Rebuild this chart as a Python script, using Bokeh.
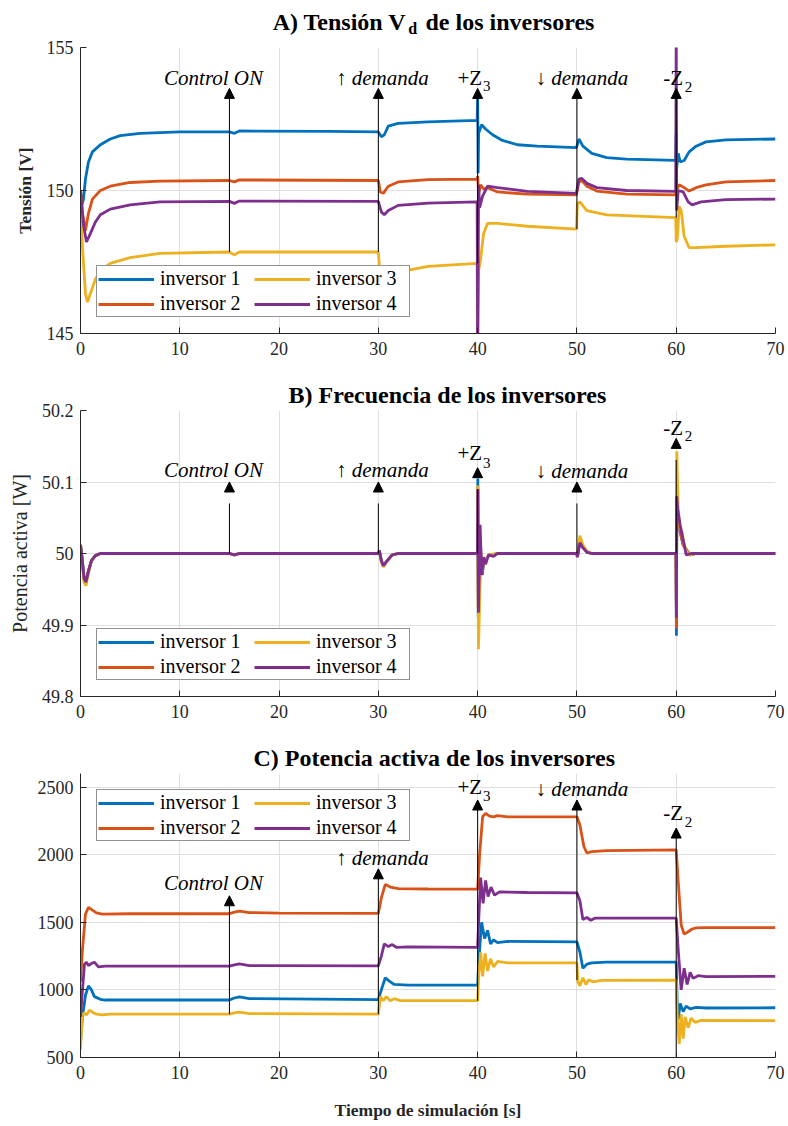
from bokeh.plotting import figure
from bokeh.layouts import column
from bokeh.models import (Legend, LegendItem, Label, Arrow, NormalHead, Title,
                          FixedTicker, CustomJSTickFormatter)
from bokeh.core.properties import value
from bokeh.embed import file_html
from bokeh.resources import INLINE

# ---------------- data ----------------
COLORS = ["#0072BD", "#D95319", "#EDB120", "#7E2F8E"]
NAMES = ["inversor 1", "inversor 2", "inversor 3", "inversor 4"]
X_TICKS = [0, 10, 20, 30, 40, 50, 60, 70]
EVENT_T = [15, 30, 40, 50, 60]

# A) Tension Vd [V]
vd_inv1 = [(0, 150.0), (0.15, 149.5), (0.3, 149.7), (0.5, 150.4), (0.8, 151.0), (1.2, 151.35), (2, 151.6),
           (3, 151.8), (4, 151.92), (6, 152.0), (10, 152.05), (15, 152.05), (15.5, 152.0), (16, 152.08),
           (25, 152.07), (30, 152.05), (30.3, 151.88), (30.6, 151.95), (31, 152.25), (32, 152.35),
           (35, 152.4), (39.95, 152.45), (40.0, 153.35), (40.05, 150.6), (40.1, 152.0), (40.4, 152.3),
           (40.8, 152.15), (41.5, 151.95), (42.5, 151.75), (44, 151.6), (46, 151.55), (49.95, 151.5),
           (50.2, 151.8), (50.6, 151.55), (51.5, 151.3), (53, 151.15), (55, 151.1), (59.95, 151.05),
           (60.0, 152.0), (60.05, 150.8), (60.2, 151.3), (60.4, 151.0), (60.8, 151.05), (61.3, 151.35),
           (62, 151.55), (63, 151.7), (65, 151.77), (70, 151.8)]
vd_inv2 = [(0, 150.0), (0.2, 149.2), (0.5, 148.6), (0.8, 149.2), (1.2, 149.7), (2, 150.0), (3, 150.15),
           (5, 150.28), (8, 150.33), (15, 150.35), (15.5, 150.3), (16, 150.37), (30, 150.35), (30.2, 149.95),
           (30.5, 149.9), (31, 150.15), (32, 150.3), (35, 150.38), (39.95, 150.4), (40.0, 150.5),
           (40.1, 149.9), (40.3, 150.2), (40.6, 150.05), (41, 150.1), (42, 149.95), (45, 149.87),
           (49.95, 149.85), (50.2, 150.3), (50.5, 150.35), (51, 150.15), (52, 149.98), (55, 149.87),
           (59.95, 149.85), (60.0, 150.0), (60.3, 150.2), (60.8, 150.1), (61.3, 149.98), (62, 150.1),
           (63, 150.2), (65, 150.3), (70, 150.35)]
vd_inv3 = [(0, 150.0), (0.2, 148.0), (0.5, 146.4), (0.7, 146.1), (1.0, 146.4), (1.5, 146.9), (2, 147.2),
           (3, 147.45), (5, 147.65), (8, 147.8), (15, 147.85), (15.5, 147.75), (16, 147.85), (30, 147.85),
           (30.2, 146.9), (30.5, 146.6), (31, 146.9), (32, 147.15), (35, 147.35), (39.95, 147.45),
           (40.0, 144.5), (40.1, 147.2), (40.3, 147.6), (40.6, 148.5), (41, 148.85), (42, 148.85),
           (45, 148.75), (49.95, 148.65), (50.05, 149.55), (50.3, 149.6), (51, 149.3), (53, 149.15),
           (59.95, 149.05), (60.0, 148.2), (60.1, 148.3), (60.3, 149.45), (60.5, 149.3), (60.8, 148.4),
           (61.3, 148.0), (62, 148.0), (65, 148.05), (70, 148.1)]
vd_inv4 = [(0, 150.0), (0.3, 148.8), (0.6, 148.2), (1.0, 148.5), (1.5, 148.9), (2, 149.15), (3, 149.35),
           (5, 149.5), (8, 149.6), (15, 149.62), (15.5, 149.55), (16, 149.63), (30, 149.62), (30.3, 149.25),
           (30.6, 149.15), (31, 149.3), (32, 149.48), (35, 149.56), (39.95, 149.6), (40.0, 144.0),
           (40.1, 150.2), (40.2, 149.4), (40.5, 149.8), (41, 150.15), (42, 150.1), (45, 149.97),
           (49.95, 149.9), (50.2, 150.4), (50.5, 150.42), (51, 150.25), (52, 150.1), (55, 150.0),
           (59.95, 149.97), (60.0, 156.0), (60.05, 149.3), (60.2, 150.0), (60.7, 149.95), (61.2, 149.6),
           (61.6, 149.5), (62.5, 149.6), (65, 149.68), (70, 149.7)]

# B) Frecuencia [Hz]
f_inv1 = [(0, 50.012), (0.15, 49.995), (0.35, 49.968), (0.55, 49.962), (0.8, 49.975), (1.1, 49.99),
          (1.5, 49.997), (2, 50.0), (15, 50.0), (15.5, 49.998), (16, 50.0), (30, 50.0), (30.1, 50.004),
          (30.3, 49.99), (30.5, 49.983), (30.9, 49.99), (31.4, 49.998), (32, 50.0), (39.98, 50.0),
          (40.02, 50.105), (40.06, 49.91), (40.15, 49.935), (40.3, 50.0), (40.45, 49.97), (40.6, 49.985),
          (40.8, 49.99), (41.1, 49.997), (42, 50.0), (49.98, 50.0), (50.05, 49.995), (50.3, 50.018),
          (50.6, 50.01), (51, 50.002), (51.5, 50.0), (59.98, 50.0), (60.02, 49.885), (60.06, 50.08),
          (60.2, 50.05), (60.4, 50.03), (60.7, 50.012), (61.0, 50.006), (61.4, 49.998), (62, 50.0), (70, 50.0)]
f_inv2 = [(0, 50.012), (0.15, 49.994), (0.35, 49.966), (0.55, 49.961), (0.8, 49.976), (1.1, 49.99),
          (1.5, 49.997), (2, 50.0), (15, 50.0), (15.5, 49.998), (16, 50.0), (30, 50.0), (30.1, 50.004),
          (30.3, 49.99), (30.5, 49.982), (30.9, 49.99), (31.4, 49.998), (32, 50.0), (39.98, 50.0),
          (40.02, 50.092), (40.06, 49.925), (40.15, 49.94), (40.3, 50.01), (40.45, 49.97), (40.6, 49.99),
          (40.8, 49.99), (41.1, 49.997), (42, 50.0), (49.98, 50.0), (50.05, 49.995), (50.3, 50.02),
          (50.6, 50.01), (51, 50.002), (51.5, 50.0), (59.98, 50.0), (60.02, 49.895), (60.06, 50.078),
          (60.2, 50.052), (60.4, 50.03), (60.7, 50.012), (61.0, 50.006), (61.4, 49.998), (62, 50.0), (70, 50.0)]
f_inv3 = [(0, 50.01), (0.15, 49.99), (0.35, 49.96), (0.55, 49.955), (0.8, 49.972), (1.1, 49.99),
          (1.5, 49.997), (2, 50.0), (15, 50.0), (15.5, 49.998), (16, 50.0), (30, 50.0), (30.1, 50.003),
          (30.3, 49.988), (30.5, 49.981), (30.9, 49.99), (31.4, 49.998), (32, 50.0), (39.98, 50.0),
          (40.02, 50.095), (40.08, 49.866), (40.2, 49.93), (40.3, 50.0), (40.45, 49.975), (40.6, 49.99),
          (40.8, 49.992), (41.1, 49.998), (42, 50.0), (49.98, 50.0), (50.05, 49.996), (50.3, 50.025),
          (50.6, 50.012), (51, 50.003), (51.5, 50.0), (59.98, 50.0), (60.02, 49.92), (60.06, 50.143),
          (60.2, 50.06), (60.4, 50.035), (60.6, 50.03), (60.8, 50.012), (61.0, 50.004), (61.4, 49.998),
          (62, 50.0), (70, 50.0)]
f_inv4 = [(0, 50.012), (0.15, 49.995), (0.35, 49.965), (0.55, 49.96), (0.8, 49.975), (1.1, 49.99),
          (1.5, 49.997), (2, 50.0), (15, 50.0), (15.5, 49.998), (16, 50.0), (30, 50.0), (30.1, 50.004),
          (30.3, 49.99), (30.5, 49.983), (30.9, 49.99), (31.4, 49.998), (32, 50.0), (39.98, 50.0),
          (40.02, 50.09), (40.08, 49.917), (40.25, 50.04), (40.4, 49.97), (40.6, 49.995), (40.8, 49.985),
          (41.1, 49.998), (41.6, 49.996), (42, 50.0), (49.98, 50.0), (50.05, 49.995), (50.3, 50.015),
          (50.6, 50.008), (51, 50.002), (51.5, 50.0), (59.98, 50.0), (60.02, 49.91), (60.06, 50.08),
          (60.15, 50.062), (60.4, 50.04), (60.6, 50.025), (60.8, 50.013), (61.0, 49.998), (61.5, 50.0),
          (70, 50.0)]

# C) Potencia activa [W]
p_inv1 = [(0, 620), (0.2, 800), (0.5, 960), (0.8, 1030), (1.1, 1000), (1.4, 950), (2, 930), (2.5, 925),
          (15, 925), (15.5, 940), (16, 948), (17, 935), (30, 928), (30.3, 1000), (30.7, 1090), (31.1, 1065),
          (31.6, 1040), (33, 1035), (40, 1035), (40.1, 1200), (40.4, 1500), (40.7, 1380), (41, 1440),
          (41.3, 1340), (41.6, 1370), (42, 1350), (43, 1358), (50, 1355), (50.3, 1280), (50.6, 1160),
          (51, 1190), (51.5, 1200), (53, 1205), (60, 1205), (60.1, 900), (60.2, 780), (60.4, 900),
          (60.7, 840), (61.0, 880), (61.4, 860), (62, 870), (63, 866), (70, 868)]
p_inv2 = [(0, 1060), (0.2, 1300), (0.5, 1560), (0.8, 1610), (1.2, 1590), (1.6, 1570), (2.2, 1560), (5, 1563),
          (15, 1563), (15.5, 1575), (16, 1583), (17, 1572), (20, 1568), (30, 1565), (30.3, 1680), (30.7, 1780),
          (31.2, 1760), (32, 1748), (35, 1746), (40, 1745), (40.2, 2000), (40.5, 2280), (40.8, 2305),
          (41.2, 2285), (41.6, 2280), (42, 2288), (43, 2280), (50, 2280), (50.3, 2220), (50.7, 2060),
          (51, 2012), (51.5, 2022), (53, 2030), (60, 2035), (60.2, 1800), (60.5, 1480), (60.8, 1412),
          (61.2, 1430), (61.6, 1450), (62, 1458), (63, 1460), (70, 1460)]
p_inv3 = [(0, 560), (0.2, 820), (0.4, 830), (0.6, 815), (0.9, 850), (1.2, 835), (1.6, 820), (2.2, 815),
          (3, 820), (15, 820), (15.5, 830), (16, 835), (17, 825), (30, 820), (30.2, 950), (30.5, 920),
          (30.8, 950), (31.2, 920), (31.6, 935), (32.2, 920), (35, 920), (40, 920), (40.1, 1100),
          (40.3, 1280), (40.5, 1100), (40.75, 1270), (41, 1140), (41.3, 1230), (41.6, 1170), (42, 1210),
          (43, 1200), (50, 1200), (50.1, 1060), (50.3, 1030), (50.6, 1090), (50.9, 1040), (51.2, 1075),
          (51.6, 1060), (52.5, 1070), (60, 1072), (60.1, 800), (60.3, 600), (60.5, 820), (60.7, 640),
          (60.9, 800), (61.2, 720), (61.5, 790), (61.9, 760), (62.5, 775), (70, 772)]
p_inv4 = [(0, 800), (0.2, 1000), (0.4, 1190), (0.6, 1205), (0.8, 1180), (1.1, 1195), (1.4, 1205),
          (1.8, 1170), (2.5, 1175), (15, 1175), (15.5, 1185), (16, 1192), (17, 1180), (30, 1177),
          (30.3, 1250), (30.6, 1340), (31, 1320), (31.4, 1335), (31.8, 1315), (33, 1318), (40, 1315),
          (40.1, 1500), (40.3, 1830), (40.55, 1640), (40.8, 1810), (41.05, 1690), (41.35, 1760),
          (41.7, 1700), (42.2, 1725), (45, 1720), (50, 1718), (50.3, 1660), (50.6, 1520), (51, 1535),
          (51.4, 1515), (51.8, 1530), (53, 1530), (60, 1530), (60.2, 1300), (60.5, 1000), (60.8, 1160),
          (61.1, 1040), (61.4, 1130), (61.7, 1085), (62.2, 1105), (63, 1098), (70, 1100)]

FONT = "Liberation Serif"
AX_COLOR = "#262626"


def title_fig(height, pieces):
    """Title strip; its frame is aligned with the plots' frames (x in seconds, y in px)."""
    t = figure(width=788, height=height, x_range=(0, 70), y_range=(height, 0),
               x_axis_type=None, y_axis_type=None,
               output_backend="svg", toolbar_location=None,
               min_border_left=80, min_border_right=13, min_border_top=0, min_border_bottom=0)
    t.xgrid.visible = False
    t.ygrid.visible = False
    t.outline_line_color = None
    t.border_fill_color = "white"
    for x, y, txt, size, align in pieces:
        t.text(x=[x], y=[y], text=[txt], text_font=value(FONT), text_font_style="bold",
               text_font_size=value(size), text_align=align, text_baseline="middle",
               text_color="black")
    return t


def make_fig(height, y_range, y_ticks, border_top, border_bottom):
    p = figure(width=788, height=height, x_range=(0, 70), y_range=y_range,
               output_backend="svg", toolbar_location=None,
               min_border_left=80, min_border_right=13,
               min_border_top=border_top, min_border_bottom=border_bottom)
    p.outline_line_color = None
    p.background_fill_color = "white"
    p.border_fill_color = "white"
    p.xaxis.ticker = FixedTicker(ticks=X_TICKS)
    p.yaxis.ticker = FixedTicker(ticks=y_ticks)
    for ax in (p.xaxis[0], p.yaxis[0]):
        ax.axis_line_color = AX_COLOR
        ax.major_tick_line_color = AX_COLOR
        ax.major_tick_in = 6
        ax.major_tick_out = 0
        ax.minor_tick_line_color = None
        ax.major_label_text_font = FONT
        ax.major_label_text_font_size = "18px"
        ax.major_label_text_color = AX_COLOR
        ax.axis_label_text_font = FONT
        ax.axis_label_text_color = AX_COLOR
    p.xaxis.major_label_standoff = 8
    p.yaxis.major_label_standoff = 7
    p.xgrid.grid_line_color = "#dfdfdf"
    p.ygrid.grid_line_color = "#dfdfdf"
    return p


def set_title(p, text, offset):
    p.title = Title(text=text, align="left", offset=offset, standoff=5, vertical_align="bottom",
                    text_font=FONT, text_font_size="24px", text_font_style="bold",
                    text_color="black")


def add_series(p, series, legend_loc):
    rs = []
    for s, c in zip(series, COLORS):
        t = [a for a, b in s]
        v = [b for a, b in s]
        rs.append(p.line(t, v, line_color=c, line_width=2.8))
    items = [LegendItem(label=n, renderers=[r]) for n, r in zip(NAMES, rs)]
    leg = Legend(items=items, ncols=2, location=legend_loc, margin=16,
                 label_text_font=FONT, label_text_font_size="20px",
                 label_text_color="black",
                 glyph_width=56, glyph_height=20, label_height=20, label_width=92,
                 label_standoff=6, padding=1, spacing=2,
                 border_line_color=AX_COLOR, border_line_width=1,
                 background_fill_color="white", background_fill_alpha=1)
    p.add_layout(leg)


def add_arrows(p, tails, line_tops, head_bases, tips):
    for t, a, b, hb, tip in zip(EVENT_T, tails, line_tops, head_bases, tips):
        p.segment(x0=[t], y0=[a], x1=[t], y1=[b], line_color="black", line_width=1)
        p.add_layout(Arrow(end=NormalHead(size=10, fill_color="black", line_color="black", line_width=1),
                           x_start=t, y_start=hb, x_end=t, y_end=tip,
                           line_color="black", line_width=1))


def add_text(p, x, y, text, size="21px", style="normal", align="left"):
    p.add_layout(Label(x=x, y=y, text=text, text_font=FONT, text_font_size=size,
                       text_font_style=style, text_align=align, text_baseline="middle",
                       text_color="black"))


def add_event_labels(p, y_main, y_z3, y_sub3, y_dn, y_z2, y_sub2):
    add_text(p, 13.4, y_main[0], "Control ON", style="italic", align="center")
    add_text(p, 30.4, y_main[1], "↑ demanda", style="italic", align="center")
    add_text(p, 37.97, y_z3, "+Z")
    add_text(p, 40.55, y_sub3, "3", size="15px")
    add_text(p, 50.5, y_dn, "↓ demanda", style="italic", align="center")
    add_text(p, 58.7, y_z2, "-Z")
    add_text(p, 60.85, y_sub2, "2", size="15px")


# ---------------- A ----------------
tA = title_fig(37, [(32.83, 21.5, "A) Tensión V", "24px", "right"),
                    (33.0, 27.5, "d", "16px", "left"),
                    (34.75, 21.5, "de los inversores", "24px", "left")])
pA = make_fig(333, (145, 155), [145, 150, 155], 10, 37)
add_series(pA, [vd_inv1, vd_inv2, vd_inv3, vd_inv4], "bottom_left")
pA.yaxis.axis_label = "Tensión [V]"
pA.yaxis.axis_label_text_font_style = "bold"
pA.yaxis.axis_label_text_font_size = "17.5px"
pA.yaxis.axis_label_standoff = 9
add_arrows(pA, [147.85, 147.85, 147.45, 148.65, 149.05],
           [153.3] * 5, [153.22] * 5, [153.57] * 5)
add_event_labels(pA, (153.93, 153.93), 153.93, 153.64, 153.93, 153.93, 153.62)

# ---------------- B ----------------
pB = make_fig(363, (49.8, 50.2), [49.8, 49.9, 50.0, 50.1, 50.2], 40, 37)
set_title(pB, "B) Frecuencia de los inversores", 208)
pB.yaxis.formatter = CustomJSTickFormatter(code="return String(Number(tick.toFixed(1)));")
add_series(pB, [f_inv1, f_inv2, f_inv3, f_inv4], "bottom_left")
pB.yaxis.axis_label = "Potencia activa [W]"
pB.yaxis.axis_label_text_font_style = "normal"
pB.yaxis.axis_label_text_font_size = "20px"
pB.yaxis.axis_label_standoff = 8
add_arrows(pB, [50.0] * 5, [50.07, 50.07, 50.09, 50.07, 50.131],
           [50.086, 50.086, 50.106, 50.086, 50.147], [50.1, 50.1, 50.12, 50.1, 50.161])
add_event_labels(pB, (50.117, 50.117), 50.140, 50.127, 50.116, 50.176, 50.165)

# ---------------- C ----------------
pC = make_fig(393, (500, 2600), [500, 1000, 1500, 2000, 2500], 40, 69)
set_title(pC, "C) Potencia activa de los inversores", 173)
add_series(pC, [p_inv1, p_inv2, p_inv3, p_inv4], "top_left")
pC.xaxis.axis_label = "Tiempo de simulación [s]"
pC.xaxis.axis_label_text_font_style = "bold"
pC.xaxis.axis_label_text_font_size = "17.5px"
pC.xaxis.axis_label_standoff = 18
add_arrows(pC, [820, 820, 920, 1072, 500], [1650, 1850, 2360, 2360, 2150],
           [1622, 1821, 2330, 2330, 2123], [1696, 1895, 2404, 2404, 2197])
add_event_labels(pC, (1790, 1975), 2500, 2434, 2485, 2308, 2238)

layout = column(tA, pA, pB, pC, spacing=0)
open("out.html", "w").write(file_html(layout, INLINE))
